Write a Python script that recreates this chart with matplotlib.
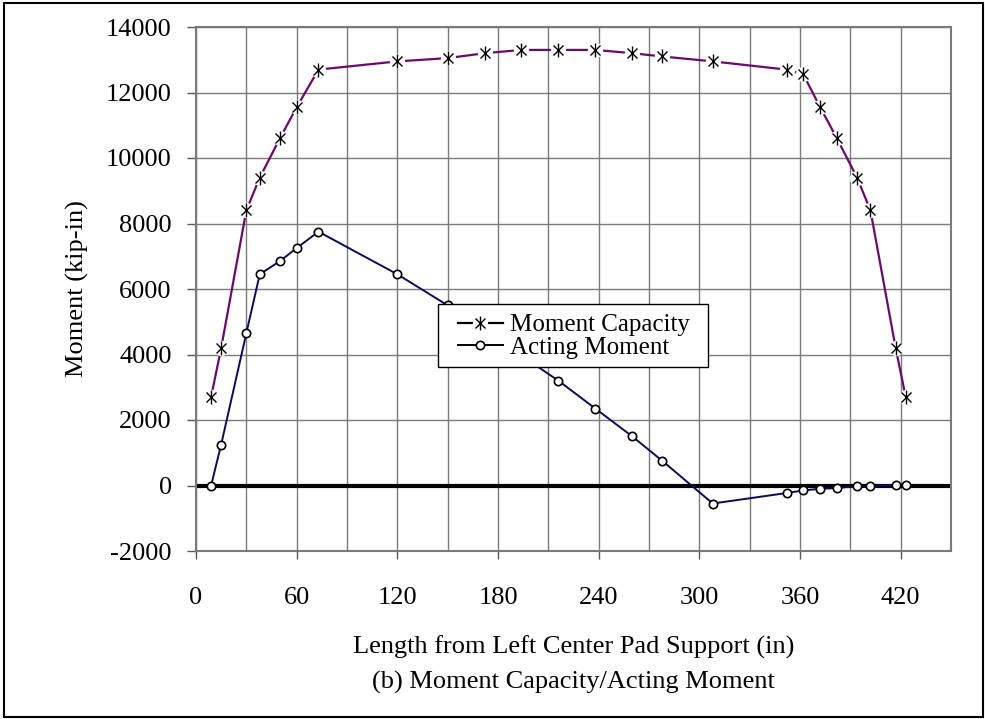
import matplotlib.pyplot as plt
import numpy as np
from matplotlib.patches import Rectangle
from matplotlib.legend_handler import HandlerTuple
from matplotlib.ticker import MultipleLocator

# Data
cap_x = [9, 15, 30, 38, 50, 60, 73, 120, 150, 172, 194, 216, 238, 260, 278, 308,
         352, 362, 372, 382, 394, 402, 417, 423]
cap_m = [2700, 4200, 8400, 9400, 10600, 11550, 12700, 12950, 13050, 13200, 13300, 13300,
         13300, 13200, 13100, 12950, 12700, 12550, 11550, 10600, 9400, 8400, 4200, 2700]

act_x = [9, 15, 30, 38, 50, 60, 73, 120, 150, 216, 238, 260, 278, 308,
         352, 362, 372, 382, 394, 402, 417, 423]
act_m = [0, 1250, 4650, 6450, 6850, 7250, 7750, 6450, 5500, 3200, 2350, 1500, 750, -550,
         -230, -150, -100, -80, -20, -20, 20, 20]

plt.rcParams['font.family'] = ['Liberation Serif', 'DejaVu Serif']
plt.rcParams['axes.unicode_minus'] = False

fig = plt.figure(figsize=(9.85, 7.19), dpi=100)
fig.patch.set_facecolor('white')
ax = fig.add_axes([196/985, 1 - 551/719, (951 - 196)/985, (551 - 27)/719])

purple = '#6a0a6a'
navy = '#0a0a5a'

# zero line
ax.axhline(0, color='black', lw=3, zorder=2)

# Moment capacity: white blob under each star so the line breaks at markers
l_cap, = ax.plot(cap_x, cap_m, color=purple, lw=1.6, marker='o', ms=11,
                 mfc='white', mec='white', mew=0, zorder=3)
l_x, = ax.plot(cap_x, cap_m, ls='none', marker='x', ms=7.5, mec='black', mew=1.0, zorder=4)
l_v, = ax.plot(cap_x, cap_m, ls='none', marker='|', ms=10.5, mec='black', mew=1.0, zorder=4)

# Acting moment
l_act, = ax.plot(act_x, act_m, color=navy, lw=1.4, marker='o', ms=6,
                 mfc='white', mec='black', mew=1.2, zorder=5)

ax.set_xlim(0, 450)
ax.set_ylim(-2000, 14000)
ax.xaxis.set_major_locator(MultipleLocator(60))
ax.xaxis.set_minor_locator(MultipleLocator(30))
ax.yaxis.set_major_locator(MultipleLocator(2000))
ax.grid(which='both', color='#7a7a7a', lw=1.0, zorder=1)
ax.set_axisbelow(True)

ax.tick_params(axis='x', which='major', direction='out', length=6, width=1,
               color='#555555', pad=20, labelsize=19)
ax.tick_params(axis='x', which='minor', length=0)
ax.tick_params(axis='y', direction='out', length=6.5, width=1,
               color='#555555', pad=11, labelsize=19)
for s in ax.spines.values():
    s.set_color('#7a7a7a')
    s.set_linewidth(1.5)

ax.set_ylabel('Moment (kip-in)', fontsize=19, va='center')
ax.yaxis.set_label_coords(-0.157, 0.5)
ax.set_xlabel('Length from Left Center Pad Support (in)', fontsize=19, va='center')
ax.xaxis.set_label_coords(0.5, -0.183)
fig.text(573/985, 1 - 682/719, '(b) Moment Capacity/Acting Moment',
         fontsize=19, ha='center', va='center')

# legend box drawn by hand so the padding matches
ax.add_patch(Rectangle((0.3205, 0.351), 0.3576, 0.1204, transform=ax.transAxes,
                       facecolor='white', edgecolor='black', lw=1.0, zorder=9))
leg = ax.legend([(l_cap, l_x, l_v), l_act], ['Moment Capacity', 'Acting Moment'],
                handler_map={tuple: HandlerTuple(ndivide=1, pad=0)},
                loc='upper left', bbox_to_anchor=(0.347, 0.4525), borderaxespad=0,
                fontsize=18, frameon=False, borderpad=0,
                handlelength=1.8, labelspacing=0.0, handletextpad=0.3)
for h in leg.legend_handles:
    h.set_color('black')
leg.set_zorder(10)

# outer frame round the whole picture
fig.patches.append(Rectangle((4/985, 1 - 717/719), 979/985, 714/719,
                             transform=fig.transFigure, fill=False,
                             edgecolor='black', lw=1.5))

plt.savefig('out.png', dpi=100, facecolor='white')
